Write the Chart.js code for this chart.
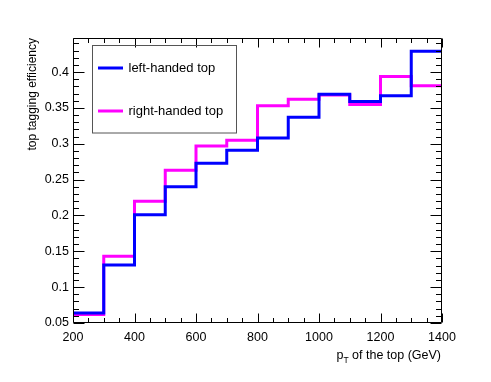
<!DOCTYPE html>
<html>
<head>
<meta charset="utf-8">
<script src="https://cdn.jsdelivr.net/npm/chart.js@4"></script>
<style>
html,body{margin:0;padding:0;background:#fff;}
#wrap{width:491px;height:382px;position:relative;}
</style>
</head>
<body>
<div id="wrap"><canvas id="c" width="491" height="382"></canvas></div>
<script>
// Bin lower edges (GeV), plus final upper edge
const binEdges = [200, 300, 400, 500, 600, 700, 800, 900, 1000, 1100, 1200, 1300, 1400];
const leftHanded  = [0.064, 0.131, 0.201, 0.240, 0.273, 0.291, 0.308, 0.337, 0.369, 0.359, 0.367, 0.429];
const rightHanded = [0.062, 0.143, 0.220, 0.263, 0.297, 0.305, 0.353, 0.362, 0.368, 0.355, 0.394, 0.381];
const seriesNames = ['left-handed top', 'right-handed top'];
const xTickLabels = [200, 400, 600, 800, 1000, 1200, 1400];
const yTickLabels = [0.05, 0.1, 0.15, 0.2, 0.25, 0.3, 0.35, 0.4];
const xTitle = 'p';
const xTitleSub = 'T';
const xTitleRest = ' of the top (GeV)';
const yTitle = 'top tagging efficiency';

function toSteps(vals){
  const pts = vals.map((v,i)=>({x:binEdges[i], y:v}));
  pts.push({x:binEdges[vals.length], y:vals[vals.length-1]});
  return pts;
}

const FONT = '"Liberation Sans", Arial, Helvetica, sans-serif';

const framePlugin = {
  id:'frame',
  afterDraw(chart){
    const ctx = chart.ctx, a = chart.chartArea;
    const xs = chart.scales.x, ys = chart.scales.y;
    ctx.save();
    ctx.strokeStyle = '#000'; ctx.lineWidth = 1;
    const L = Math.round(a.left)+0.5, R = Math.round(a.right)-0.5, T = Math.round(a.top)+0.5, B = Math.round(a.bottom)-0.5;
    ctx.beginPath();
    ctx.rect(L, T, R-L, B-T);
    // x ticks
    for (let v = 200; v <= 1400; v += 50) {
      const px = Math.round(xs.getPixelForValue(v)) + 0.5;
      const len = (v % 200 === 0) ? 9 : 4.5;
      ctx.moveTo(px, B); ctx.lineTo(px, B - len);
      ctx.moveTo(px, T); ctx.lineTo(px, T + len);
    }
    // y ticks
    for (let k = 5; k <= 44; k++) {
      const v = k/100;
      const py = Math.round(ys.getPixelForValue(v)) + 0.5;
      const len = (k % 5 === 0) ? 11 : 5.5;
      ctx.moveTo(L, py); ctx.lineTo(L + len, py);
      ctx.moveTo(R, py); ctx.lineTo(R - len, py);
    }
    ctx.stroke();

    // legend
    const lx = 92.5, ly = 45.5, lw = 144, lh = 87.5;
    ctx.strokeStyle = '#555';
    ctx.strokeRect(lx, ly, lw, lh);
    const ds = chart.data.datasets;
    const rowsY = [68, 111];
    ctx.font = '13px ' + FONT;
    ctx.textBaseline = 'middle';
    ctx.textAlign = 'left';
    ds.forEach((d,i)=>{
      ctx.strokeStyle = d.borderColor; ctx.lineWidth = 3;
      ctx.beginPath(); ctx.moveTo(98, rowsY[i]); ctx.lineTo(123, rowsY[i]); ctx.stroke();
      ctx.fillStyle = '#000';
      ctx.fillText(d.label, 128.5, rowsY[i] + 0.5);
    });

    // axis titles
    ctx.fillStyle = '#000';
    ctx.textBaseline = 'alphabetic';
    ctx.font = '12.5px ' + FONT;
    const subFont = '8.5px ' + FONT;
    const wP = ctx.measureText(xTitle).width;
    const wRest = ctx.measureText(xTitleRest).width;
    ctx.font = subFont;
    const wSub = ctx.measureText(xTitleSub).width;
    let x0 = 441 - (wP + wSub + wRest);
    const base = 359;
    ctx.font = '12.5px ' + FONT;
    ctx.textAlign = 'left';
    ctx.fillText(xTitle, x0, base);
    ctx.font = subFont;
    ctx.fillText(xTitleSub, x0 + wP, base + 4);
    ctx.font = '12.5px ' + FONT;
    ctx.fillText(xTitleRest, x0 + wP + wSub, base);

    ctx.font = '12px ' + FONT;
    ctx.translate(35.5, 38);
    ctx.rotate(-Math.PI/2);
    ctx.textAlign = 'right';
    ctx.fillText(yTitle, 0, 0);
    ctx.restore();
  }
};

new Chart(document.getElementById('c'), {
  type:'line',
  data:{
    datasets:[
      {label:seriesNames[0], data:toSteps(leftHanded), borderColor:'#0000ff', borderWidth:3, stepped:true, pointRadius:0, fill:false},
      {label:seriesNames[1], data:toSteps(rightHanded), borderColor:'#ff00ff', borderWidth:3, stepped:true, pointRadius:0, fill:false}
    ]
  },
  options:{
    responsive:false,
    animation:false,
    devicePixelRatio:1,
    layout:{padding:{left:0, top:38, right:49, bottom:0}},
    plugins:{legend:{display:false}, tooltip:{enabled:false}},
    scales:{
      x:{
        type:'linear', min:200, max:1400,
        grid:{display:false, drawTicks:false},
        border:{display:false},
        afterBuildTicks(s){ s.ticks = xTickLabels.map(v=>({value:v})); },
        afterFit(s){ s.height = 59; },
        ticks:{color:'#000', font:{family:FONT, size:12.5}, padding:7, maxRotation:0, autoSkip:false,
               callback:(v)=>String(v)}
      },
      y:{
        type:'linear', min:0.05, max:0.4476,
        grid:{display:false, drawTicks:false},
        border:{display:false},
        afterBuildTicks(s){ s.ticks = yTickLabels.map(v=>({value:v})); },
        afterFit(s){ s.width = 73; },
        ticks:{color:'#000', font:{family:FONT, size:12.5}, padding:4, autoSkip:false,
               callback:(v)=>String(Math.round(v*100)/100)}
      }
    }
  },
  plugins:[framePlugin]
});
</script>
</body>
</html>
